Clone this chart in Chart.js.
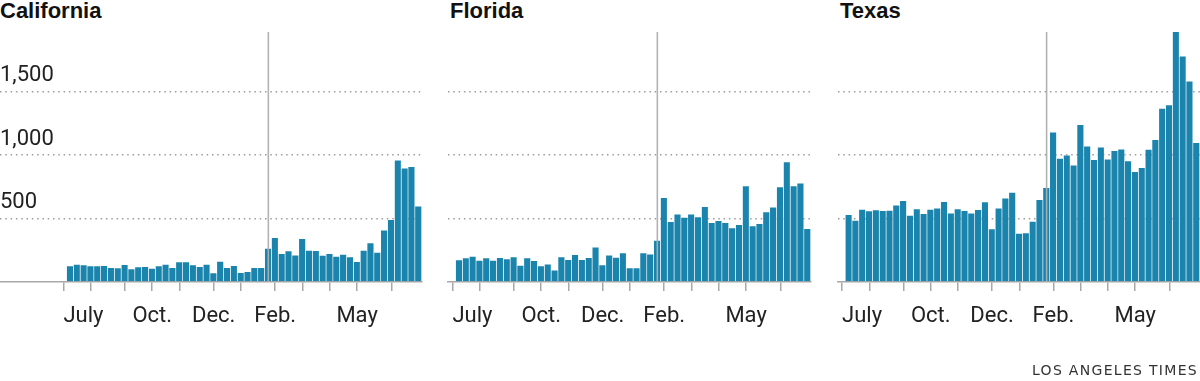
<!DOCTYPE html>
<html>
<head>
<meta charset="utf-8">
<script src="https://cdn.jsdelivr.net/npm/chart.js@4/dist/chart.umd.min.js"></script>
<style>
  html, body { margin: 0; padding: 0; background: #fff; }
  body { width: 1200px; height: 381px; position: relative; overflow: hidden; }
  canvas { position: absolute; top: 0; }
  .title { position: absolute; top: 0px; font-family: "Liberation Sans", Arial, sans-serif; font-weight: bold; font-size: 22px; line-height: 21px; color: #111; }
  .source { position: absolute; right: 2px; top: 362px; font-family: "DejaVu Sans", sans-serif; font-size: 14px; letter-spacing: 1.3px; color: #333; line-height: 16px; }
</style>
</head>
<body>
<div class="title" style="left:0px">California</div>
<div class="title" style="left:450px">Florida</div>
<div class="title" style="left:840px">Texas</div>
<canvas id="ca" width="430" height="381" style="left:0px"></canvas>
<canvas id="fl" width="380" height="381" style="left:440px"></canvas>
<canvas id="tx" width="370" height="381" style="left:830px"></canvas>
<div class="source">LOS ANGELES TIMES</div>
<script>
// ---- data (weekly counts, 52 weeks) ----
const WEEKS = [0,1,2,3,4,5,6,7,8,9,10,11,12,13,14,15,16,17,18,19,20,21,22,23,24,25,26,27,28,29,30,31,32,33,34,35,36,37,38,39,40,41,42,43,44,45,46,47,48,49,50,51];
const CALIFORNIA = [129,142,137,129,129,131,115,113,139,105,121,123,110,129,142,115,160,160,137,123,142,74,165,115,131,76,84,115,115,268,352,226,247,215,344,252,249,213,226,205,220,200,163,252,310,236,412,493,963,900,911,601];
const FLORIDA = [176,192,205,173,192,173,194,184,200,134,192,171,129,144,95,200,179,218,179,194,278,137,215,197,231,113,113,231,221,331,667,478,538,512,538,515,596,470,486,470,428,454,759,444,462,554,593,751,948,759,782,423];
const TEXAS = [533,488,575,562,570,564,567,609,643,528,578,541,575,585,635,546,578,564,546,572,633,420,585,664,709,386,389,480,651,746,1184,977,1003,924,1242,1074,966,1066,971,1037,1050,956,872,903,1047,1124,1370,1399,1975,1782,1586,1100];
// month ticks (week position of each month start) and labels
const MONTH_TICK_WEEKS = [-1,3,8,12,16,21,25,30,34,38,42,47];
const MONTH_LABELS = ['July','','','Oct.','','Dec.','','Feb.','','','May',''];
const MARKER_WEEK = 29;
const Y_TICKS = [0,500,1000,1500];
const Y_MAX = 1970;

const BAR_COLOR = '#1a84ad';
const BAR_EDGE = 'rgba(255,255,255,0.28)';
const GRID_COLOR = '#9c9c9c';
const AXIS_COLOR = '#a8a8a8';
const BAR_PX = 6.83;

const markerPlugin = {
  id: 'marker',
  afterDatasetsDraw(chart) {
    const x = chart.scales.x.getPixelForValue(MARKER_WEEK);
    const a = chart.chartArea;
    const ctx = chart.ctx;
    ctx.save();
    ctx.strokeStyle = 'rgba(175,175,175,0.95)';
    ctx.lineWidth = 1.6;
    ctx.beginPath();
    ctx.moveTo(x, a.top);
    ctx.lineTo(x, a.bottom);
    ctx.stroke();
    ctx.restore();
  }
};

function makeChart(id, values, showY, padLeft, padRight, canvasWidth) {
  const areaWidth = canvasWidth - padLeft - padRight;
  const xMax = WEEKS[WEEKS.length - 1] + 0.5;
  const xMin = xMax - areaWidth / BAR_PX;
  return new Chart(document.getElementById(id), {
    type: 'bar',
    data: {
      labels: WEEKS,
      datasets: [{
        data: values,
        backgroundColor: BAR_COLOR,
        borderColor: BAR_EDGE,
        borderWidth: { top: 1, right: 1, left: 0, bottom: 0 },
        borderSkipped: 'bottom',
        barPercentage: 1,
        categoryPercentage: 1
      }]
    },
    options: {
      responsive: false,
      animation: false,
      devicePixelRatio: 1,
      layout: { padding: { top: 32, bottom: 0, left: padLeft, right: padRight } },
      plugins: { legend: { display: false }, tooltip: { enabled: false }, title: { display: false } },
      scales: {
        x: {
          type: 'linear',
          offset: false,
          min: xMin,
          max: xMax,
          afterBuildTicks(scale) { scale.ticks = MONTH_TICK_WEEKS.map(v => ({ value: v })); },
          afterFit(scale) { scale.height = 99; },
          grid: { display: true, offset: false, drawOnChartArea: false, drawTicks: true, tickLength: 9, color: AXIS_COLOR, lineWidth: 1.5 },
          border: { display: true, color: AXIS_COLOR, width: 1.5 },
          ticks: {
            autoSkip: false, maxRotation: 0, minRotation: 0, align: 'inner', padding: 12,
            color: '#222',
            font: { family: 'Roboto, "Liberation Sans", sans-serif', size: 22, weight: '400' },
            callback: (v, i) => MONTH_LABELS[MONTH_TICK_WEEKS.indexOf(v)] ?? ''
          }
        },
        y: {
          type: 'linear',
          min: 0,
          max: Y_MAX,
          afterBuildTicks(scale) { scale.ticks = Y_TICKS.map(v => ({ value: v })); },
          grid: {
            drawTicks: false, lineWidth: 1.5,
            color: (c) => (c.tick && c.tick.value === 0) ? 'rgba(0,0,0,0)' : GRID_COLOR
          },
          border: { display: false, dash: [1.5, 3.8] },
          ticks: {
            display: showY, mirror: true, padding: 0, labelOffset: -16,
            color: '#222',
            font: { family: 'Roboto, "Liberation Sans", sans-serif', size: 22, weight: '400' },
            callback: (v) => v === 0 ? '' : v.toLocaleString('en-US')
          }
        }
      }
    },
    plugins: [markerPlugin]
  });
}

makeChart('ca', CALIFORNIA, true, 0, 8, 430);
makeChart('fl', FLORIDA, false, 8, 9, 380);
makeChart('tx', TEXAS, false, 7, 0, 370);
</script>
</body>
</html>
